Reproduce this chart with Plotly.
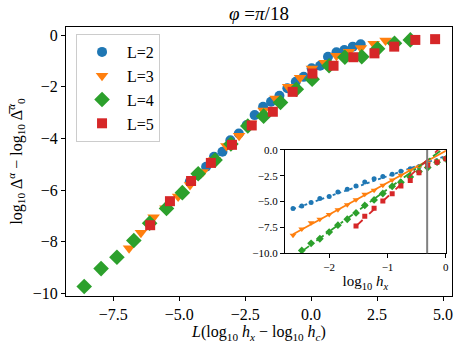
import plotly.graph_objects as go

# ---------------- data ----------------
log_hc = -0.32  # position of the vertical grey line (log10 h_c)

log_hx_all = [-2.62, -2.47, -2.31, -2.16, -2.00, -1.85, -1.69, -1.54, -1.39, -1.23, -1.08,
              -0.92, -0.77, -0.61, -0.46, -0.31, -0.15, 0.00, 0.16, 0.31, 0.47, 0.62]

L_values = [2, 3, 4, 5]
series_names = ["L=2", "L=3", "L=4", "L=5"]

hx_L2 = log_hx_all
y_L2 = [-5.68, -5.42, -5.10, -4.71, -4.52, -4.07, -3.81, -3.48, -3.10, -2.78, -2.58,
        -2.35, -2.06, -1.81, -1.62, -1.29, -1.19, -0.84, -0.67, -0.58, -0.45, -0.36]

hx_L3 = log_hx_all
y_L3 = [-8.25, -7.65, -7.05, -6.70, -6.25, -5.80, -5.30, -4.83, -4.30, -3.90, -3.42,
        -2.92, -2.46, -2.00, -1.65, -1.30, -1.07, -0.80, -0.65, -0.50, -0.34, -0.21]

hx_L4 = log_hx_all[1:]
y_L4 = [-9.73, -9.04, -8.60, -7.95, -7.28, -6.71, -6.10, -5.37, -4.84, -4.22, -3.52,
        -3.14, -2.61, -2.10, -1.71, -1.19, -0.86, -0.84, -0.53, -0.32, -0.19]

hx_L5 = log_hx_all[7:]
y_L5 = [-7.36, -6.43, -5.65, -4.95, -4.25, -3.50, -2.97, -2.20, -1.49, -1.19, -0.86,
        -0.71, -0.45, -0.19, -0.16]

# linear fits shown in the inset: y = slope * log10(h_x) + intercept
fit_slopes = [1.96, 3.08, 4.09, 5.25]
fit_intercepts = [-0.58, -0.09, 0.28, 0.71]

main_xticks = [-7.5, -5.0, -2.5, 0.0, 2.5, 5.0]
main_yticks = [0, -2, -4, -6, -8, -10]
inset_xticks = [-2, -1, 0]
inset_yticks = [0.0, -2.5, -5.0, -7.5, -10.0]

# ---------------- style ----------------
colors = ["#1f77b4", "#ff7f0e", "#2ca02c", "#d62728"]
symbols = ["circle", "triangle-down", "diamond", "square"]
main_sizes = [10, 11, 12, 10]
inset_sizes = [5, 6, 6, 5]
line_dashes = ["dot", "solid", "dashdot", "dash"]
FONT = "Liberation Serif"

hx_list = [hx_L2, hx_L3, hx_L4, hx_L5]
y_list = [y_L2, y_L3, y_L4, y_L5]

fig = go.Figure()

# main collapse plot
for L, name, hx, ys, c, s, ms in zip(L_values, series_names, hx_list, y_list, colors, symbols, main_sizes):
    fig.add_trace(go.Scatter(
        x=[L * (h - log_hc) for h in hx], y=ys, mode="markers", name=name,
        marker=dict(color=c, symbol=s, size=ms, line=dict(width=0)),
        xaxis="x", yaxis="y"))

# inset: raw data and fits
for L, hx, ys, c, s, ms, d, a, b in zip(L_values, hx_list, y_list, colors, symbols, inset_sizes,
                                        line_dashes, fit_slopes, fit_intercepts):
    xs_line = [hx[0], hx[-1]]
    fig.add_trace(go.Scatter(
        x=xs_line, y=[a * v + b for v in xs_line], mode="lines", showlegend=False,
        line=dict(color=c, width=1.8, dash=d), xaxis="x2", yaxis="y2"))
    fig.add_trace(go.Scatter(
        x=hx, y=ys, mode="markers", showlegend=False,
        marker=dict(color=c, symbol=s, size=ms, line=dict(width=0)),
        xaxis="x2", yaxis="y2"))

fig.add_shape(type="line", xref="x2", yref="y2 domain", x0=log_hc, x1=log_hc, y0=0, y1=1,
              line=dict(color="#808080", width=2))

axis_common = dict(showline=True, linecolor="black", linewidth=1, mirror=True,
                   ticks="outside", ticklen=4, tickcolor="black", showgrid=False,
                   zeroline=False)

fig.update_layout(
    width=464, height=348, autosize=False,
    margin=dict(l=66, r=9, t=27, b=52),
    paper_bgcolor="white", plot_bgcolor="white",
    font=dict(family=FONT, size=15, color="black"),
    title=dict(text="<i>φ</i> =<i>π</i>/18", x=0.5, xref="paper", xanchor="center",
               y=0.9626, yref="container", yanchor="middle",
               font=dict(family=FONT, size=19, color="black")),
    xaxis=dict(domain=[0, 1], range=[-9.29, 5.34], tickvals=main_xticks, tickformat=".1f",
               title=dict(text="<i>L</i>(log<sub>10</sub> <i>h<sub>x</sub></i> − log<sub>10</sub> <i>h<sub>c</sub></i>)",
                          standoff=2, font=dict(size=16)),
               tickfont=dict(size=16), **axis_common),
    yaxis=dict(domain=[0, 1], range=[-10.1, 0.31], tickvals=main_yticks,
               title=dict(text="log<sub>10</sub> Δ<sup><i>α</i></sup> − log<sub>10</sub> Δ̅<sup><i>α</i></sup><sub>0</sub>",
                          standoff=6, font=dict(size=16)),
               tickfont=dict(size=16), **axis_common),
    xaxis2=dict(domain=[0.567, 0.984], anchor="y2", range=[-2.76, 0.0], tickvals=inset_xticks,
                tickformat="d",
                title=dict(text="log<sub>10</sub> <i>h<sub>x</sub></i>", standoff=1, font=dict(size=15)),
                tickfont=dict(size=11), **axis_common),
    yaxis2=dict(domain=[0.159, 0.543], anchor="x2", range=[-10.0, 0.0], tickvals=inset_yticks,
                tickformat=".1f", tickfont=dict(size=11), **axis_common),
    legend=dict(x=0.026, y=0.974, xanchor="left", yanchor="top", bgcolor="white",
                bordercolor="#cccccc", borderwidth=1, font=dict(family=FONT, size=16),
                itemwidth=40),
    showlegend=True,
)

# remove the default 8px page margin so the 464x348 figure fills the window exactly
fig.write_html("out.html", config={"displayModeBar": False},
               post_script="document.body.style.margin='0';")
